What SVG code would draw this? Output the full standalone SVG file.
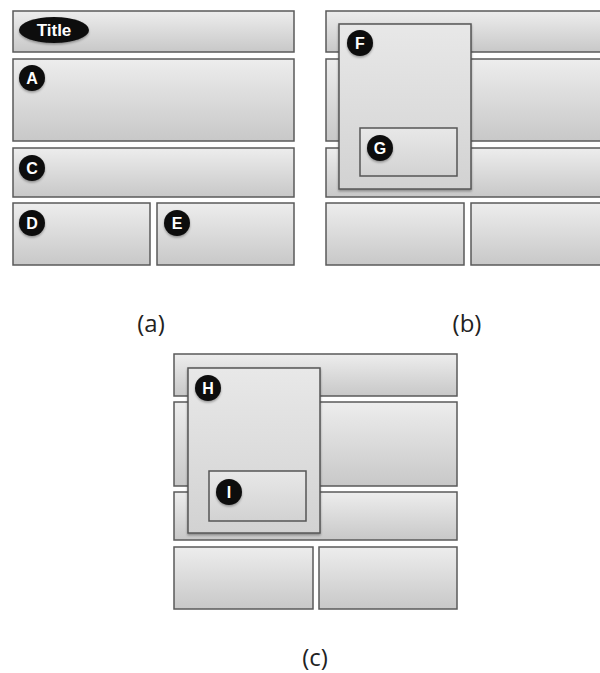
<svg xmlns="http://www.w3.org/2000/svg" width="600" height="673" viewBox="0 0 600 673">
<defs>
<linearGradient id="g" x1="0" y1="0" x2="0" y2="1">
<stop offset="0" stop-color="#ededed"/>
<stop offset="1" stop-color="#c8c8c8"/>
</linearGradient>
<linearGradient id="g2" x1="0" y1="0" x2="0" y2="1">
<stop offset="0" stop-color="#e8e8e8"/>
<stop offset="1" stop-color="#d2d2d2"/>
</linearGradient>
<filter id="sh" x="-20%" y="-20%" width="140%" height="140%">
<feDropShadow dx="0" dy="1.5" stdDeviation="1.2" flood-color="#000" flood-opacity="0.35"/>
</filter>
</defs>
<style>
.bar{fill:url(#g);stroke:#5a5a5a;stroke-width:1.5}
.pop{fill:url(#g2);stroke:#555;stroke-width:1.5}
.badge{fill:#0a0a0a;filter:url(#sh)}
.bt{fill:#fff;font-family:"Liberation Sans",Arial,sans-serif;font-weight:bold;font-size:16px;text-anchor:middle}
.tt{font-size:17px}
.cap{fill:#222;font-family:"Open Sans","Liberation Sans",sans-serif;font-size:24px;text-anchor:middle}
</style>
<rect width="600" height="673" fill="#fff"/>
<!-- Panel (a) -->
<g id="a-title"><rect class="bar" x="13" y="11" width="281" height="41"/><ellipse class="badge" cx="54" cy="30" rx="35" ry="13"/><text class="bt tt" x="54" y="36">Title</text></g>
<g id="a-A"><rect class="bar" x="13" y="59" width="281" height="82"/><circle class="badge" cx="32" cy="78" r="13"/><text class="bt" x="32" y="84">A</text></g>
<g id="a-C"><rect class="bar" x="13" y="148" width="281" height="49"/><circle class="badge" cx="32" cy="168" r="13"/><text class="bt" x="32" y="174">C</text></g>
<g id="a-D"><rect class="bar" x="13" y="203" width="137" height="62"/><circle class="badge" cx="32" cy="223" r="13"/><text class="bt" x="32" y="229">D</text></g>
<g id="a-E"><rect class="bar" x="157" y="203" width="137" height="62"/><circle class="badge" cx="177" cy="223" r="13"/><text class="bt" x="177" y="229">E</text></g>
<text class="cap" x="151" y="332">(a)</text>
<!-- Panel (b) -->
<g id="b-bars">
<rect class="bar" x="326" y="11" width="281" height="41"/>
<rect class="bar" x="326" y="59" width="281" height="82"/>
<rect class="bar" x="326" y="148" width="281" height="49"/>
<rect class="bar" x="326" y="203" width="138" height="62"/>
<rect class="bar" x="471" y="203" width="137" height="62"/>
</g>
<g id="b-F"><rect class="pop" x="339" y="24" width="132" height="165" filter="url(#sh)"/><circle class="badge" cx="360" cy="43" r="13"/><text class="bt" x="360" y="49">F</text></g>
<g id="b-G"><rect class="pop" x="360" y="128" width="97" height="48"/><circle class="badge" cx="380" cy="148" r="13"/><text class="bt" x="380" y="154">G</text></g>
<text class="cap" x="467" y="332">(b)</text>
<!-- Panel (c) -->
<g id="c-bars">
<rect class="bar" x="174" y="354" width="283" height="42"/>
<rect class="bar" x="174" y="402" width="283" height="84"/>
<rect class="bar" x="174" y="492" width="283" height="48"/>
<rect class="bar" x="174" y="547" width="139" height="62"/>
<rect class="bar" x="319" y="547" width="138" height="62"/>
</g>
<g id="c-H"><rect class="pop" x="188" y="368" width="132" height="165" filter="url(#sh)"/><circle class="badge" cx="208" cy="388" r="13"/><text class="bt" x="208" y="394">H</text></g>
<g id="c-I"><rect class="pop" x="209" y="471" width="97" height="50"/><circle class="badge" cx="229" cy="492" r="13"/><text class="bt" x="229" y="498">I</text></g>
<text class="cap" x="315" y="666">(c)</text>
</svg>
